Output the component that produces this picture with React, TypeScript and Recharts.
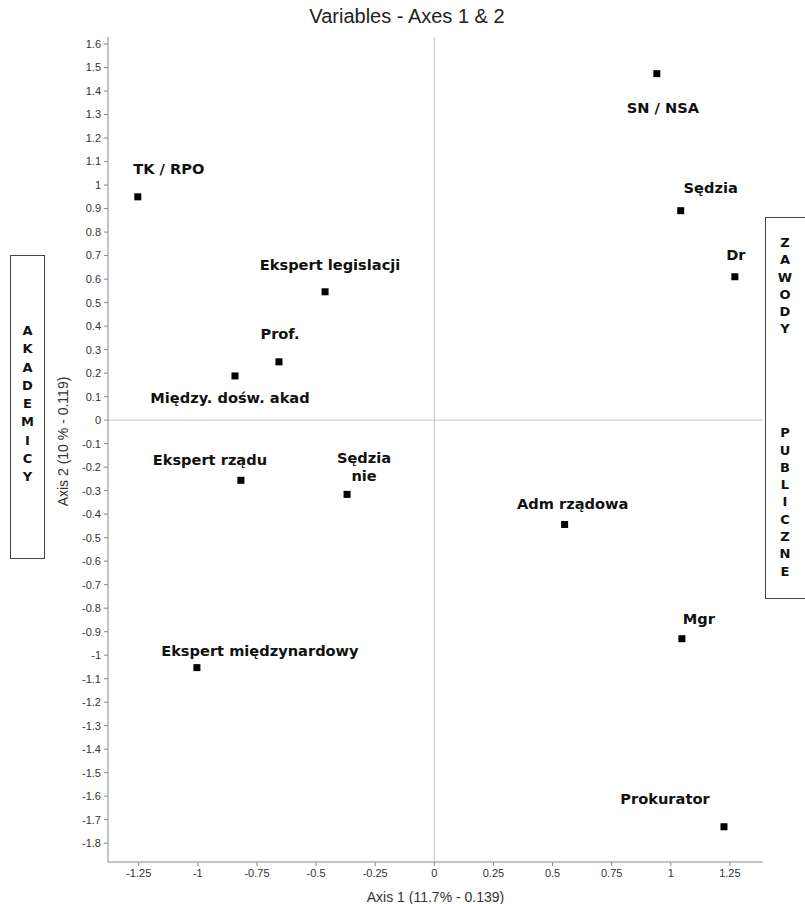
import React from 'react';
import {
  ScatterChart,
  Scatter,
  XAxis,
  YAxis,
  ReferenceLine,
} from 'recharts';

// variables on the first factorial plane
const names = [
  'TK / RPO',
  'SN / NSA',
  'Sędzia',
  'Dr',
  'Ekspert legislacji',
  'Prof.',
  'Między. dośw. akad',
  'Ekspert rządu',
  'Sędzia\nnie',
  'Adm rządowa',
  'Mgr',
  'Ekspert międzynardowy',
  'Prokurator',
];
const axis1 = [-1.254, 0.941, 1.042, 1.271, -0.462, -0.657, -0.843, -0.818, -0.369, 0.551, 1.047, -1.004, 1.225];
const axis2 = [0.95, 1.474, 0.891, 0.61, 0.546, 0.248, 0.188, -0.256, -0.316, -0.444, -0.93, -1.053, -1.73];

const xTicks = [-1.25, -1, -0.75, -0.5, -0.25, 0, 0.25, 0.5, 0.75, 1, 1.25];
const yTicks = [
  1.6, 1.5, 1.4, 1.3, 1.2, 1.1, 1, 0.9, 0.8, 0.7, 0.6, 0.5, 0.4, 0.3, 0.2, 0.1, 0,
  -0.1, -0.2, -0.3, -0.4, -0.5, -0.6, -0.7, -0.8, -0.9, -1, -1.1, -1.2, -1.3, -1.4,
  -1.5, -1.6, -1.7, -1.8,
];

const leftBox = ['A', 'K', 'A', 'D', 'E', 'M', 'I', 'C', 'Y'];
const rightBox = ['Z', 'A', 'W', 'O', 'D', 'Y', '', '', '', '', '', 'P', 'U', 'B', 'L', 'I', 'C', 'Z', 'N', 'E'];

// label placement relative to the marker: [dx, dy of first baseline]
const labelPos: Record<string, [number, number]> = {
  'TK / RPO': [31, -23],
  'SN / NSA': [6, 39],
  'Sędzia': [30, -18],
  'Dr': [1, -17],
  'Ekspert legislacji': [5, -22],
  'Prof.': [1, -23],
  'Między. dośw. akad': [-5, 27],
  'Ekspert rządu': [-31, -15],
  'Sędzia\nnie': [17, -31],
  'Adm rządowa': [8, -15],
  'Mgr': [17, -15],
  'Ekspert międzynardowy': [63, -12],
  'Prokurator': [-59, -23],
};

const data = names.map((name, i) => ({ name, x: axis1[i], y: axis2[i] }));

const tickStyle = { fontFamily: 'Liberation Sans, Arial, sans-serif', fontSize: 11, fill: '#333' };

const Point = (props: any) => {
  const { cx, cy, payload } = props;
  const [dx, dy] = labelPos[payload.name] || [0, -16];
  const lines = String(payload.name).split('\n');
  return (
    <g>
      <rect x={cx - 3.5} y={cy - 3.5} width={7} height={7} fill="#000" />
      <text
        x={cx + dx}
        y={cy + dy}
        textAnchor="middle"
        fontFamily="DejaVu Sans, Verdana, sans-serif"
        fontWeight="bold"
        fontSize={14.6}
        fill="#111"
      >
        {lines.map((l, i) => (
          <tspan key={i} x={cx + dx} dy={i === 0 ? 0 : 18}>
            {l}
          </tspan>
        ))}
      </text>
    </g>
  );
};

const boxLetter: React.CSSProperties = {
  fontFamily: 'DejaVu Sans, Verdana, sans-serif',
  fontWeight: 'bold',
  fontSize: 13,
  textAlign: 'center',
  color: '#111',
};

export default function App() {
  return (
    <div style={{ position: 'absolute', left: 0, top: 0, width: 805, height: 904, overflow: 'hidden', background: '#fff' }}>
      <div
        style={{
          position: 'absolute',
          left: 0,
          width: 814,
          top: 5,
          textAlign: 'center',
          fontFamily: 'Liberation Sans, Arial, sans-serif',
          fontSize: 20,
          color: '#222',
        }}
      >
        Variables - Axes 1 &amp; 2
      </div>
      <ScatterChart width={805} height={904} margin={{ top: 37, right: 42, bottom: 0, left: 0 }}>
        <XAxis
          type="number"
          dataKey="x"
          domain={[-1.38, 1.39]}
          ticks={xTicks}
          interval={0}
          allowDataOverflow
          height={42}
          tickSize={4}
          tickMargin={3}
          tick={tickStyle}
          stroke="#888"
          label={{
            value: 'Axis 1 (11.7% - 0.139)',
            position: 'insideBottom',
            offset: 2,
            style: { fontFamily: 'Liberation Sans, Arial, sans-serif', fontSize: 14, fill: '#333' },
          }}
        />
        <XAxis xAxisId="top" orientation="top" type="number" height={0} tick={false} tickLine={false} stroke="#999" />
        <YAxis
          type="number"
          dataKey="y"
          domain={[-1.88, 1.63]}
          ticks={yTicks}
          interval={0}
          allowDataOverflow
          width={108}
          tickSize={4}
          tickMargin={3}
          tick={tickStyle}
          stroke="#888"
          label={{
            content: (p: any) => {
              const vb = p.viewBox;
              const x = 63;
              const y = vb.y + vb.height / 2 - 8;
              return (
                <text
                  x={x}
                  y={y}
                  transform={`rotate(-90, ${x}, ${y})`}
                  textAnchor="middle"
                  dominantBaseline="central"
                  fontFamily="Liberation Sans, Arial, sans-serif"
                  fontSize={14}
                  fill="#333"
                >
                  Axis 2 (10 % - 0.119)
                </text>
              );
            },
          }}
        />
        <YAxis yAxisId="right" orientation="right" type="number" width={0} tick={false} tickLine={false} stroke="#999" />
        <ReferenceLine x={0} stroke="#c4c4c4" />
        <ReferenceLine y={0} stroke="#c4c4c4" />
        <Scatter data={data} shape={<Point />} isAnimationActive={false} />
      </ScatterChart>
      <div
        style={{
          position: 'absolute',
          left: 10,
          top: 255,
          width: 35,
          height: 304,
          border: '1px solid #444',
          boxSizing: 'border-box',
          paddingTop: 66,
        }}
      >
        {leftBox.map((c, i) => (
          <div key={i} style={{ ...boxLetter, height: 18.3, lineHeight: '18.3px' }}>
            {c}
          </div>
        ))}
      </div>
      <div
        style={{
          position: 'absolute',
          left: 765,
          top: 217,
          width: 45,
          height: 382,
          border: '1px solid #444',
          boxSizing: 'border-box',
          paddingTop: 16,
        }}
      >
        {rightBox.map((c, i) => (
          <div key={i} style={{ ...boxLetter, paddingRight: 5, height: 17.3, lineHeight: '17.3px' }}>
            {c}
          </div>
        ))}
      </div>
    </div>
  );
}
